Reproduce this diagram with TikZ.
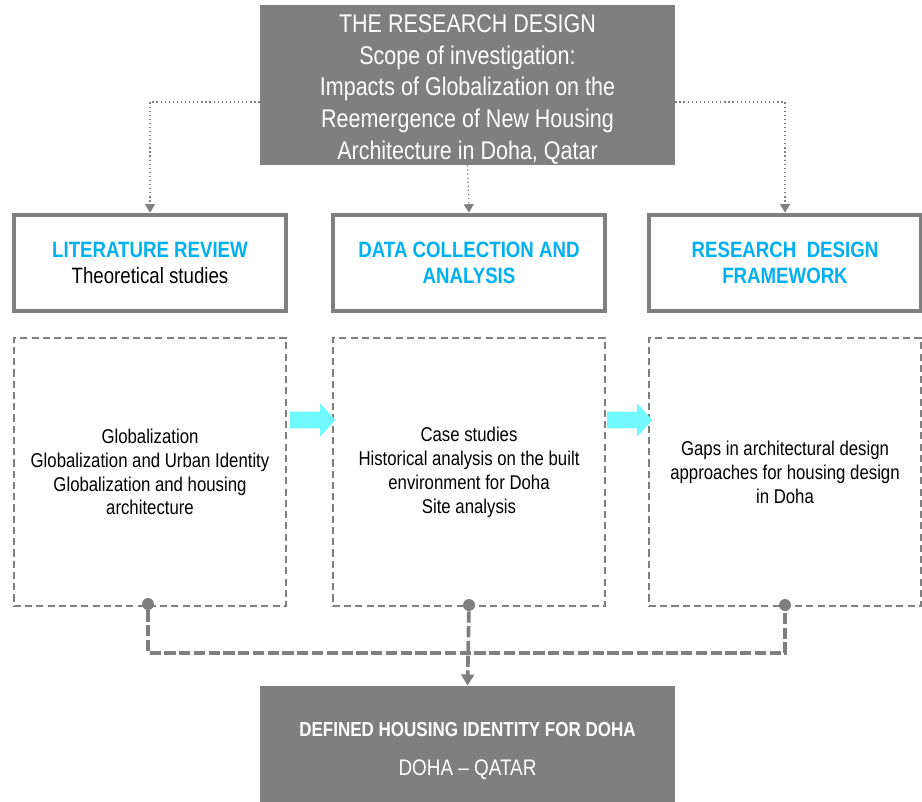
\documentclass[tikz,border=0pt]{standalone}
\usepackage{fontspec}
\setmainfont[FakeStretch=0.84]{Liberation Sans}
\usetikzlibrary{shapes.arrows, arrows.meta}
\definecolor{boxgray}{RGB}{127,127,127}
\definecolor{headblue}{RGB}{0,176,240}
\definecolor{flowcyan}{RGB}{112,250,255}
\newcommand{\headfont}{\color{headblue}\bfseries}
\begin{document}
\begin{tikzpicture}
        [x=0.025cm, y=-0.025cm,
        darkBox/.style={rectangle, fill=boxgray, text=white, align=center, minimum width=10.375cm, inner ysep=0pt},
        headBox/.style={rectangle, draw=boxgray, line width=2.8pt, align=center, minimum width=6.8cm, minimum height=2.42cm, inner sep=0pt, font=\fontsize{15.8}{18.6}\selectfont},
        contentBox/.style={rectangle, draw=boxgray, line width=1.1pt, dash pattern=on 5pt off 3pt, align=center, minimum width=6.8cm, minimum height=6.7cm, font=\fontsize{14.2}{17}\selectfont},
        flowArrow/.style={single arrow, fill=flowcyan, minimum height=1.125cm, inner xsep=0pt, inner ysep=0.2cm, single arrow head extend=0.21cm, single arrow tip angle=96},
        dot/.style={circle, fill=boxgray, minimum size=0.3cm, inner sep=0pt},
        dotLink/.style={draw=boxgray, line width=0.9pt, dotted, -{Triangle[length=6pt, width=7pt]}},
        mainLink/.style={draw=boxgray, line width=2.6pt, dash pattern=on 8pt off 2.5pt}]
        \useasboundingbox (0,0) rectangle (922,802);

        \node[darkBox, minimum height=4cm, font=\fontsize{18.2}{22.6}\selectfont] (design) at (467.5,85)
            {\rule{0pt}{19pt}THE RESEARCH DESIGN\\Scope of investigation:\\Impacts of Globalization on the\\Reemergence of New Housing\\Architecture in Doha, Qatar};

        \node[headBox] (litHead) at (150,263) {{\headfont LITERATURE REVIEW}\\Theoretical studies};
        \node[headBox] (dataHead) at (469,263) {{\headfont DATA COLLECTION AND}\\{\headfont ANALYSIS}};
        \node[headBox] (frameHead) at (785,263) {{\headfont RESEARCH\ \ DESIGN}\\{\headfont FRAMEWORK}};

        \node[contentBox] (litBox) at (150,472) {Globalization\\Globalization and Urban Identity\\Globalization and housing\\architecture};
        \node[contentBox] (dataBox) at (469,472) {Case studies\\Historical analysis on the built\\environment for Doha\\Site analysis};
        \node[contentBox] (frameBox) at (785,472) {Gaps in architectural design\\approaches for housing design\\in Doha};

        \node[flowArrow] (flowA) at (309,420) {};
        \node[flowArrow] (flowB) at (626,420) {};

        \node[darkBox, minimum height=2.9cm, font=\fontsize{16}{28}\selectfont] (identity) at (467.5,744)
            {{\fontsize{14.4}{28}\selectfont\bfseries\rule{0pt}{20.5pt}DEFINED HOUSING IDENTITY FOR DOHA}\\DOHA -- QATAR};

        \node[dot] (litDot) at (148,604) {};
        \node[dot] (dataDot) at (469,605) {};
        \node[dot] (frameDot) at (785,605) {};

        % dotted links from the top box
        \draw[dotLink] (design.west |- 0,102) -| (litHead.north);
        \draw[dotLink] (design.south) -- (dataHead.north);
        \draw[dotLink] (design.east |- 0,102) -| (frameHead.north);

        % joining line to the result
        \draw[mainLink] (litDot) -- ++(0,49) -| (frameDot);
        \draw[mainLink, -{Triangle[length=8pt, width=9pt]}] (dataDot) -- (identity.north);
    \end{tikzpicture}
\end{document}
